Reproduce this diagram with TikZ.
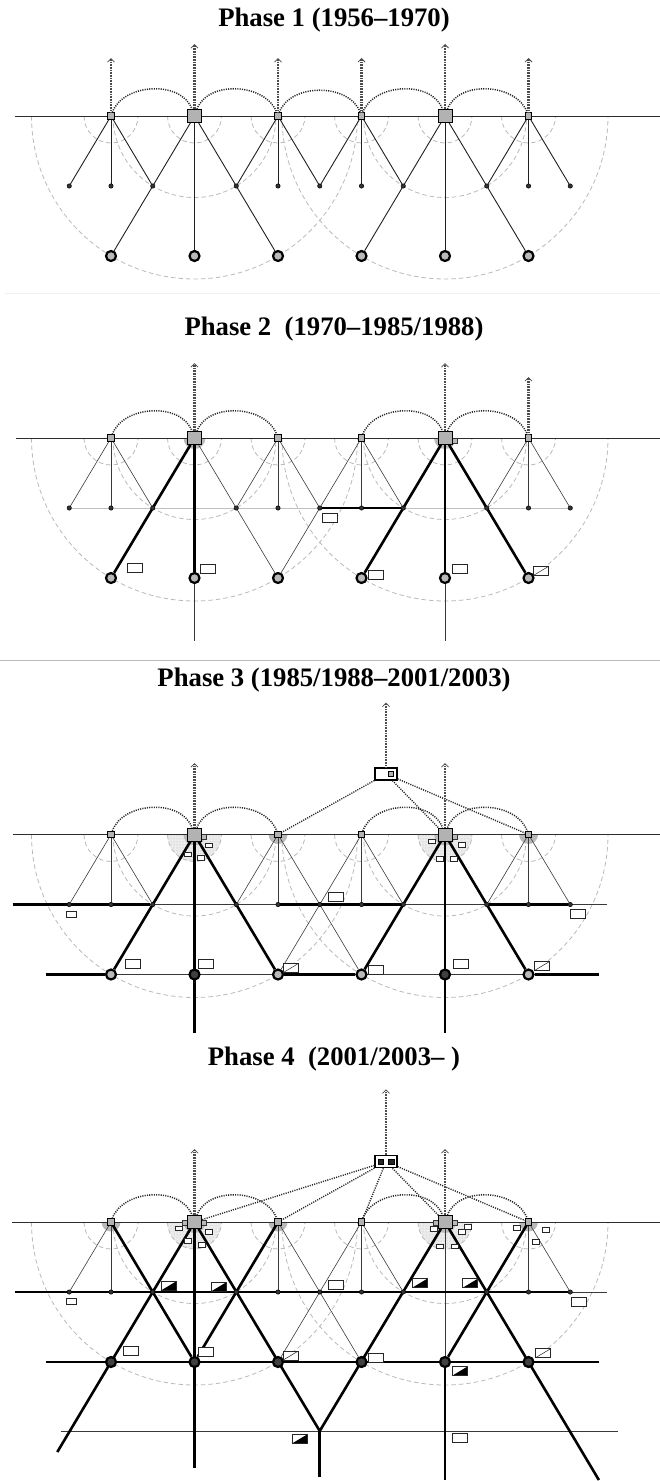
\documentclass[tikz,border=0pt]{standalone}
\usepackage{fontspec}
\setmainfont{Liberation Serif}
\usetikzlibrary{arrows.meta, patterns, positioning}
\pgfdeclarelayer{bg}
\pgfsetlayers{bg,main}

\tikzset{
  town/.style={draw=black, fill=gray!60, line width=0.6pt, minimum size=6.5pt, inner sep=0pt},
  city/.style={draw=black, fill=gray!60, line width=0.7pt, minimum width=14pt, minimum height=13pt, inner sep=0pt},
  annex/.style={draw=black!80, fill=gray!55, line width=0.5pt, minimum size=5pt, inner sep=0pt},
  village/.style={circle, draw=black, fill=gray!40!black, line width=0.5pt, minimum size=4.4pt, inner sep=0pt},
  market/.style={circle, draw=black, fill=gray!55, line width=2.2pt, minimum size=10pt, inner sep=0pt},
  darkmarket/.style={market, fill=black!75},
  tag/.style={draw=black!85, fill=white, line width=0.8pt, minimum width=15pt, minimum height=9pt, inner sep=0pt},
  smalltag/.style={tag, minimum width=10pt, minimum height=6pt},
  minitag/.style={tag, line width=0.6pt, minimum width=7pt, minimum height=4.5pt},
  slashtag/.style={tag, path picture={\draw[black!85, line width=0.5pt] (path picture bounding box.south west) -- (path picture bounding box.north east);}},
  halftag/.style={tag, path picture={\fill[black] (path picture bounding box.south west) -- (path picture bounding box.south east) -- (path picture bounding box.north east) -- cycle;}},
  hq/.style={draw=black, fill=white, line width=1.2pt, minimum width=22pt, minimum height=12pt, inner sep=0pt},
  hqcell/.style={draw=black, fill=gray!60, line width=0.6pt, minimum size=5.5pt, inner sep=0pt},
  rimline/.style={gray!35!black, line width=0.9pt},
  spoke/.style={gray!25!black, line width=0.9pt},
  lane/.style={gray!45!black, line width=0.6pt},
  tierline/.style={gray!50, line width=1pt},
  trunk/.style={black, line width=2.6pt},
  ringline/.style={gray!55, line width=0.8pt, dash pattern=on 4.5pt off 3pt},
  hopline/.style={black!85, line width=1.5pt, dash pattern=on 1.1pt off 1.2pt},
  linkline/.style={black!85, line width=1.4pt, dash pattern=on 1.1pt off 1.2pt},
  upline/.style={gray!60!black, line width=2.2pt, dash pattern=on 0.8pt off 0.8pt, -{Straight Barb[length=3.5pt, width=7pt, line width=0.8pt, sep=1pt]}},
  hubshade/.style={fill=gray!55},
  catchment/.style={preaction={fill=gray!15}, pattern=dots, pattern color=gray!55},
  title/.style={font=\bfseries\fontsize{26.7}{30}\selectfont, anchor=base, inner sep=0pt},
  separator/.style={gray!55, line width=0.8pt}
}

\begin{document}
\begin{tikzpicture}[x=1pt, y=1pt]
\useasboundingbox (0,0) rectangle (660,-1481);

\node[title] (t1) at (334,-26) {Phase 1 (1956–1970)};
\node[title] (t2) at (334,-335) {Phase 2\enspace(1970–1985/1988)};
\node[title] (t3) at (334,-686) {Phase 3 (1985/1988–2001/2003)};
\node[title] (t4) at (334,-1065) {Phase 4\enspace(2001/2003–\ )};

\coordinate (s1l) at (5,-293);
\coordinate (s1r) at (660,-293);
\coordinate (s2l) at (0,-660);
\coordinate (s2r) at (660,-660);
\draw[separator, gray!12] (s1l) -- (s1r);
\draw[separator] (s2l) -- (s2r);

% Phase 1
\begin{scope}[shift={(0,-116)}]
  \coordinate (p1l) at (14.7,0);
  \coordinate (p1r) at (660,0);
  \foreach \k in {0,2,3,5} \coordinate (p1u\k) at ({111+83.5*\k},59);
  \foreach \k in {1,4} \coordinate (p1u\k) at ({111+83.5*\k},73);
  \foreach \k in {0,2,3,5} \node[town] (p1c\k) at ({111+83.5*\k},0) {};
  \foreach \k in {1,4} \node[city] (p1c\k) at ({111+83.5*\k},0) {};
  \foreach \j in {0,1,2,4,5,6,7,8,10,11,12} \node[village] (p1m\j) at ({69.25+41.75*\j},-70) {};
  \foreach \k in {0,...,5} \node[market] (p1b\k) at ({111+83.5*\k},-140) {};
  \begin{pgfonlayer}{bg}
    \foreach \k in {0,...,5} \draw[ringline] ([xshift=-27pt]p1c\k.center) arc[start angle=180, end angle=360, radius=27pt];
    \foreach \k in {1,4} {
      \draw[ringline] ([xshift=-81.5pt]p1c\k.center) arc[start angle=180, end angle=360, radius=81.5pt];
      \draw[ringline] ([xshift=-163pt]p1c\k.center) arc[start angle=180, end angle=360, radius=163pt];
    }
    \draw[rimline] (p1l) -- (p1r);
    \foreach \a/\b in {c0/m0, c0/m1, c0/m2, c1/b0, c1/b1, c1/b2, c2/m4, c2/m5, c2/m6, c3/m6, c3/m7, c3/m8, c4/b3, c4/b4, c4/b5, c5/m10, c5/m11, c5/m12}
      \draw[spoke] (p1\a) -- (p1\b);
  \end{pgfonlayer}
  \foreach \a/\b in {0/1, 1/2, 2/3, 3/4, 4/5} \draw[hopline] (p1c\a) to[out=70, in=110] (p1c\b);
  \foreach \k in {0,...,5} \draw[upline] (p1c\k) -- (p1u\k);
\end{scope}

% Phase 2
\begin{scope}[shift={(0,-438)}]
  \coordinate (p2l) at (16,0);
  \coordinate (p2r) at (660,0);
  \coordinate (p2e1) at (194.5,-203);
  \coordinate (p2e4) at (445,-203);
  \foreach \k in {1,4} \coordinate (p2u\k) at ({111+83.5*\k},76);
  \coordinate (p2u5) at (528.5,62);
  \node[annex] (p2a4) at (454.5,-2.5) {};
  \foreach \k in {0,2,3,5} \node[town] (p2c\k) at ({111+83.5*\k},0) {};
  \foreach \k in {1,4} \node[city] (p2c\k) at ({111+83.5*\k},0) {};
  \foreach \j in {0,1,2,4,5,6,7,8,10,11,12} \node[village] (p2m\j) at ({69.25+41.75*\j},-70) {};
  \foreach \k in {0,...,5} \node[market] (p2b\k) at ({111+83.5*\k},-140) {};
  \begin{pgfonlayer}{bg}
    \foreach \k in {1,4} \fill[hubshade] ([xshift=-11pt]p2c\k.center) arc[start angle=180, end angle=360, radius=11pt] -- cycle;
    \foreach \k in {0,...,5} \draw[ringline] ([xshift=-27pt]p2c\k.center) arc[start angle=180, end angle=360, radius=27pt];
    \foreach \k in {1,4} {
      \draw[ringline] ([xshift=-81.5pt]p2c\k.center) arc[start angle=180, end angle=360, radius=81.5pt];
      \draw[ringline] ([xshift=-163pt]p2c\k.center) arc[start angle=180, end angle=360, radius=163pt];
    }
    \draw[rimline] (p2l) -- (p2r);
    \draw[tierline] (p2m0) -- (p2m12);
    \foreach \a/\b in {c0/m0, c0/m1, c0/m2, c1/b2, c2/m4, c2/m5, c2/m6, c3/b2, c3/m7, c3/m8, c5/m10, c5/m11, c5/m12, b1/e1, b4/e4}
      \draw[lane] (p2\a) -- (p2\b);
    \foreach \a/\b in {c1/b0, c1/b1, c4/b3, c4/b4, c4/b5, m6/m8}
      \draw[trunk] (p2\a) -- (p2\b);
  \end{pgfonlayer}
  \foreach \a/\b in {0/1, 1/2, 3/4, 4/5} \draw[hopline] (p2c\a) to[out=70, in=110] (p2c\b);
  \foreach \k in {1,4,5} \draw[upline] (p2c\k) -- (p2u\k);
  \foreach \s/\x/\y [count=\n] in {tag/330/-79.7, tag/134.7/-130.3, tag/207.5/-131.3, tag/375.8/-137, tag/460/-131.3, slashtag/540.8/-133}
    \node[\s] (p2t\n) at (\x,\y) {};
\end{scope}

% Phase 3
\begin{scope}[shift={(0,-834.5)}]
  \coordinate (p3l) at (12.6,0);
  \coordinate (p3r) at (660,0);
  \coordinate (p3ml) at (12.6,-70);
  \coordinate (p3mr) at (607,-70);
  \coordinate (p3bl) at (45.5,-140);
  \coordinate (p3br) at (598.5,-140);
  \coordinate (p3e1) at (194.5,-198.5);
  \coordinate (p3e4) at (445,-198.5);
  \foreach \k in {1,4} \coordinate (p3u\k) at ({111+83.5*\k},72.5);
  \coordinate (p3uh) at (386,133);
  \foreach \k in {1,4} \node[annex] (p3a\k) at ({120.5+83.5*\k},-2) {};
  \foreach \k in {0,2,3,5} \node[town] (p3c\k) at ({111+83.5*\k},0) {};
  \foreach \k in {1,4} \node[city] (p3c\k) at ({111+83.5*\k},0) {};
  \foreach \j in {0,1,2,4,5,6,7,8,10,11,12} \node[village] (p3m\j) at ({69.25+41.75*\j},-70) {};
  \foreach \k in {0,2,3,5} \node[market] (p3b\k) at ({111+83.5*\k},-140) {};
  \foreach \k in {1,4} \node[darkmarket] (p3b\k) at ({111+83.5*\k},-140) {};
  \node[hq] (p3h) at (386,60.5) {};
  \node[hqcell] (p3hc) at (391,60.5) {};
  \begin{pgfonlayer}{bg}
    \foreach \k in {1,4} \fill[catchment] ([xshift=-27pt]p3c\k.center) arc[start angle=180, end angle=360, radius=27pt] -- cycle;
    \foreach \k in {1,4} \fill[hubshade] ([xshift=-11pt]p3c\k.center) arc[start angle=180, end angle=360, radius=11pt] -- cycle;
    \foreach \k in {2,5} \fill[hubshade] ([xshift=-9.5pt]p3c\k.center) arc[start angle=180, end angle=360, radius=9.5pt] -- cycle;
    \foreach \k in {0,...,5} \draw[ringline] ([xshift=-27pt]p3c\k.center) arc[start angle=180, end angle=360, radius=27pt];
    \foreach \k in {1,4} {
      \draw[ringline] ([xshift=-81.5pt]p3c\k.center) arc[start angle=180, end angle=360, radius=81.5pt];
      \draw[ringline] ([xshift=-163pt]p3c\k.center) arc[start angle=180, end angle=360, radius=163pt];
    }
    \draw[rimline] (p3l) -- (p3r);
    \foreach \a/\b in {ml/mr, bl/br, c0/m0, c0/m1, c0/m2, c2/m4, c2/m5, c2/b3, c3/b2, c3/m7, c3/m8, c5/m10, c5/m11, c5/m12}
      \draw[lane] (p3\a) -- (p3\b);
    \foreach \a/\b in {c1/b0, c1/b2, c1/e1, c4/b3, c4/b5, c4/e4, ml/m2, m5/m8, m10/m12, bl/b0, b2/b3, b5/br}
      \draw[trunk] (p3\a) -- (p3\b);
  \end{pgfonlayer}
  \foreach \a/\b in {0/1, 1/2, 3/4, 4/5} \draw[hopline] (p3c\a) to[out=70, in=110] (p3c\b);
  \foreach \k in {2,4,5} \draw[linkline] (p3h) -- (p3c\k);
  \foreach \k in {1,4} \draw[upline] (p3c\k) -- (p3u\k);
  \draw[upline] (p3h) -- (p3uh);
  \foreach \x/\y [count=\n] in {208.5/-11, 187.7/-19.6, 201/-23.5, 431.7/-6.8, 461.7/-10.2, 439.3/-24.5, 453.3/-24.5}
    \node[minitag] (p3s\n) at (\x,\y) {};
  \foreach \s/\x/\y [count=\n] in {smalltag/71.5/-79.8, tag/335.9/-62.8, tag/577.9/-79.5, tag/132.6/-129.5, tag/206.2/-129.8, slashtag/290.4/-133.8, tag/375.8/-135.5, tag/460.9/-129.8, slashtag/542/-131.5}
    \node[\s] (p3t\n) at (\x,\y) {};
\end{scope}

% Phase 4
\begin{scope}[shift={(0,-1222)}]
  \coordinate (p4l) at (11.8,0);
  \coordinate (p4r) at (660,0);
  \coordinate (p4ml) at (14.7,-70);
  \coordinate (p4mr) at (607,-70);
  \coordinate (p4bl) at (45.5,-140);
  \coordinate (p4br) at (598.5,-140);
  \coordinate (p4tl) at (61,-209);
  \coordinate (p4tr) at (617.8,-209);
  \coordinate (p4v) at (319.75,-209);
  \coordinate (p4e0) at (57.3,-230);
  \coordinate (p4e1) at (194.5,-246);
  \coordinate (p4ev) at (319.75,-255);
  \coordinate (p4e4) at (445,-258);
  \coordinate (p4e5) at (598.9,-258);
  \foreach \k in {1,4} \coordinate (p4u\k) at ({111+83.5*\k},74);
  \coordinate (p4uh) at (386,133.7);
  \foreach \k in {1,4} {
    \node[annex] (p4al\k) at ({101.5+83.5*\k},-1) {};
    \node[annex] (p4ar\k) at ({120.5+83.5*\k},-1) {};
  }
  \foreach \k in {0,2,3,5} \node[town] (p4c\k) at ({111+83.5*\k},0) {};
  \foreach \k in {1,4} \node[city] (p4c\k) at ({111+83.5*\k},0) {};
  \foreach \j in {0,1,2,4,5,6,7,8,10,11,12} \node[village] (p4m\j) at ({69.25+41.75*\j},-70) {};
  \foreach \k in {0,...,5} \node[darkmarket] (p4b\k) at ({111+83.5*\k},-140) {};
  \node[hq] (p4h) at (386,60.3) {};
  \node[hqcell, fill=gray!30!black] (p4hc1) at (380.7,60.3) {};
  \node[hqcell, fill=gray!30!black] (p4hc2) at (391.3,60.3) {};
  \begin{pgfonlayer}{bg}
    \foreach \k in {1,4} \fill[catchment] ([xshift=-27pt]p4c\k.center) arc[start angle=180, end angle=360, radius=27pt] -- cycle;
    \foreach \k in {1,4} \fill[hubshade] ([xshift=-11pt]p4c\k.center) arc[start angle=180, end angle=360, radius=11pt] -- cycle;
    \foreach \k in {0,2,5} \fill[hubshade] ([xshift=-9.5pt]p4c\k.center) arc[start angle=180, end angle=360, radius=9.5pt] -- cycle;
    \foreach \k in {0,...,5} \draw[ringline] ([xshift=-27pt]p4c\k.center) arc[start angle=180, end angle=360, radius=27pt];
    \foreach \k in {1,4} {
      \draw[ringline] ([xshift=-81.5pt]p4c\k.center) arc[start angle=180, end angle=360, radius=81.5pt];
      \draw[ringline] ([xshift=-163pt]p4c\k.center) arc[start angle=180, end angle=360, radius=163pt];
    }
    \draw[rimline] (p4l) -- (p4r);
    \foreach \a/\b in {ml/mr, tl/tr, c0/m0, c0/m1, c2/m5, c2/b3, c3/b2, c3/m7, c3/m8, c5/m11, c5/m12, c4/b4}
      \draw[lane] (p4\a) -- (p4\b);
    \foreach \a/\b in {ml/m12, bl/br, c0/b1, c1/e0, c1/v, c1/e1, c2/b1, c4/v, v/ev, c4/e5, c5/b4, b4/e4}
      \draw[trunk] (p4\a) -- (p4\b);
  \end{pgfonlayer}
  \foreach \a/\b in {0/1, 1/2, 3/4, 4/5} \draw[hopline] (p4c\a) to[out=70, in=110] (p4c\b);
  \foreach \k in {1,...,5} \draw[linkline] (p4h) -- (p4c\k);
  \foreach \k in {1,4} \draw[upline] (p4c\k) -- (p4u\k);
  \draw[upline] (p4h) -- (p4uh);
  \foreach \x/\y [count=\n] in {178.3/-6.3, 209/-10, 187.7/-18.7, 201.3/-23, 433.3/-6.7, 461.7/-10, 467.3/-4.7, 440/-24.3, 455/-24.3, 516.7/-5.7, 546/-8, 536/-20}
    \node[minitag] (p4s\n) at (\x,\y) {};
  \foreach \s/\x/\y [count=\n] in {halftag/168.4/-64, halftag/218.9/-64.7, tag/335.9/-63, halftag/419.6/-61.3, halftag/470.1/-61.3, smalltag/71.5/-79.7, tag/578.7/-79.7, tag/131.3/-128.7, tag/206.2/-130, slashtag/290.4/-133.7, tag/375.8/-135.7, slashtag/542.9/-131.3, halftag/460/-149, halftag/300/-216.7, tag/460/-215.7}
    \node[\s] (p4t\n) at (\x,\y) {};
\end{scope}
\end{tikzpicture}
\end{document}
